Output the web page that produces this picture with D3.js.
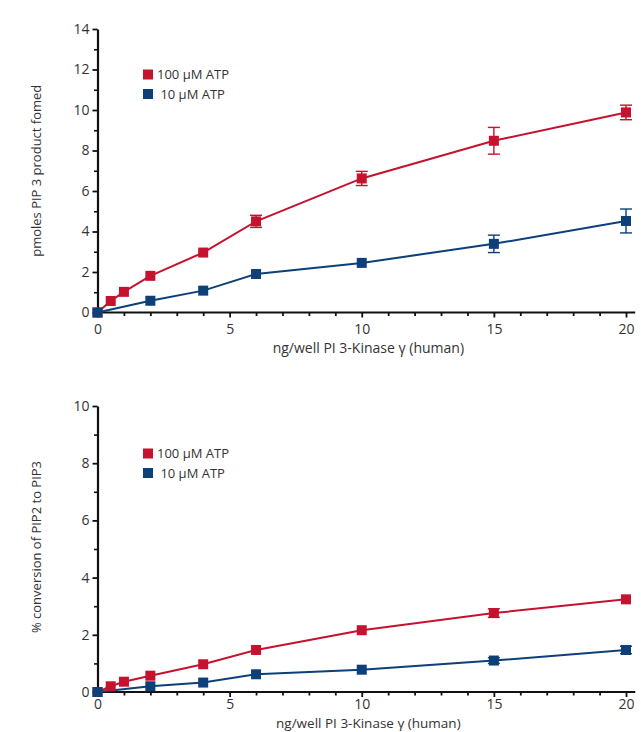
<!DOCTYPE html>
<html><head><meta charset="utf-8">
<script src="https://cdn.jsdelivr.net/npm/d3@7"></script>
<style>
body{margin:0;background:#fff;}
svg text{font-family:"Open Sans","Noto Sans",sans-serif;fill:#333;}
</style></head>
<body><svg id="c" width="641" height="732"></svg>
<script>
// ---- data ----
const xTicks = [0, 5, 10, 15, 20];
const seriesNames = ["100 \u00B5M ATP", " 10 \u00B5M ATP"];
const seriesColors = ["#c4122f", "#0d3f78"];

// top panel: pmoles PIP3 formed
const topRedX = [0, 0.5, 1, 2, 4, 6, 10, 15, 20];
const topRedY = [0, 0.57, 1.02, 1.81, 2.96, 4.5, 6.62, 8.48, 9.88];
const topRedErr = [0, 0, 0, 0, 0, 0.3, 0.35, 0.66, 0.36];
const topBlueX = [0, 2, 4, 6, 10, 15, 20];
const topBlueY = [0, 0.58, 1.08, 1.9, 2.45, 3.39, 4.52];
const topBlueErr = [0, 0, 0, 0, 0, 0.43, 0.59];
const topYTicks = [0, 2, 4, 6, 8, 10, 12, 14];

// bottom panel: % conversion
const botRedX = [0, 0.5, 1, 2, 4, 6, 10, 15, 20];
const botRedY = [0, 0.2, 0.36, 0.57, 0.97, 1.47, 2.16, 2.76, 3.24];
const botRedErr = [0, 0, 0, 0, 0, 0, 0, 0.15, 0];
const botBlueX = [0, 2, 4, 6, 10, 15, 20];
const botBlueY = [0, 0.2, 0.33, 0.62, 0.78, 1.1, 1.47];
const botBlueErr = [0, 0, 0, 0, 0, 0.1, 0.13];
const botYTicks = [0, 2, 4, 6, 8, 10];

const svg = d3.select("#c");
const x = d3.scaleLinear().domain([0, 20]).range([97.5, 626]);

function panel(cfg) {
  const y = d3.scaleLinear().domain([0, cfg.ymax]).range([cfg.y0, cfg.y1]);
  const g = svg.append("g");
  // minor y ticks
  g.append("g").attr("transform", `translate(${x(0)},0)`)
    .call(d3.axisLeft(y).tickValues(d3.range(1, cfg.ymax, 2)).tickSize(3.5).tickFormat("").tickSizeOuter(0))
    .call(a => a.select(".domain").remove())
    .call(a => a.selectAll("line").attr("stroke", "#111").attr("stroke-width", 1.6));
  // major y ticks
  g.append("g").attr("transform", `translate(${x(0)},0)`)
    .call(d3.axisLeft(y).tickValues(cfg.yTicks).tickSize(5).tickPadding(3).tickSizeOuter(0))
    .call(a => a.select(".domain").attr("stroke", "#111").attr("stroke-width", 2.2))
    .call(a => a.selectAll("line").attr("stroke", "#111").attr("stroke-width", 1.8))
    .call(a => a.selectAll("text").attr("font-size", 14).style("fill", "#333"));
  // minor x ticks
  g.append("g").attr("transform", `translate(0,${cfg.y0})`)
    .call(d3.axisBottom(x).tickValues(d3.range(1, 20).filter(v => v % 5)).tickSize(3.5).tickFormat("").tickSizeOuter(0))
    .call(a => a.select(".domain").remove())
    .call(a => a.selectAll("line").attr("stroke", "#111").attr("stroke-width", 1.8));
  // major x ticks
  g.append("g").attr("transform", `translate(0,${cfg.y0})`)
    .call(d3.axisBottom(x).tickValues(xTicks).tickSize(5).tickPadding(cfg.xPad).tickSizeOuter(0))
    .call(a => a.select(".domain").remove())
    .call(a => a.selectAll("line").attr("stroke", "#111").attr("stroke-width", 1.8))
    .call(a => a.selectAll("text").attr("font-size", 14).style("fill", "#333"));
  g.append("line").attr("x1", x(0)).attr("x2", x(20.35)).attr("y1", y(0)).attr("y2", y(0))
    .attr("stroke", "#111").attr("stroke-width", 2.2);

  // axis labels
  g.append("text").attr("x", x(10.25)).attr("y", cfg.y0 + cfg.xLabOff).attr("text-anchor", "middle")
    .attr("font-size", cfg.xLabSize).text("ng/well PI 3-Kinase \u03B3 (human)");
  g.append("text").attr("transform", `translate(41,${(cfg.y0 + cfg.y1) / 2 + cfg.yLabOff}) rotate(-90)`)
    .attr("text-anchor", "middle").attr("font-size", 13).text(cfg.yLabel);

  const line = d3.line().x(d => x(d.x)).y(d => y(d.y));
  cfg.series.forEach((s, i) => {
    const pts = s.xs.map((v, j) => ({ x: v, y: s.ys[j], e: s.es[j] }));
    g.append("path").datum(pts).attr("d", line).attr("fill", "none")
      .attr("stroke", seriesColors[i]).attr("stroke-width", 2);
    const eb = pts.filter(d => d.e > 0);
    const eg = g.append("g").attr("stroke", seriesColors[i]).attr("stroke-width", 1.4);
    eg.selectAll(".v").data(eb).join("line").attr("x1", d => x(d.x)).attr("x2", d => x(d.x))
      .attr("y1", d => y(d.y - d.e)).attr("y2", d => y(d.y + d.e));
    [1, -1].forEach(sg => {
      eg.selectAll(".c" + (sg > 0 ? "a" : "b")).data(eb).join("line")
        .attr("x1", d => x(d.x) - 6).attr("x2", d => x(d.x) + 6)
        .attr("y1", d => y(d.y + sg * d.e)).attr("y2", d => y(d.y + sg * d.e));
    });
  });
  cfg.series.forEach((s, i) => {
    const pts = s.xs.map((v, j) => ({ x: v, y: s.ys[j] }));
    g.append("g").selectAll("rect").data(pts).join("rect")
      .attr("x", d => x(d.x) - 5).attr("y", d => y(d.y) - 5).attr("width", 10).attr("height", 10)
      .attr("fill", seriesColors[i]);
  });

  // legend
  seriesNames.forEach((n, i) => {
    const ly = cfg.legY + i * 19.5;
    g.append("rect").attr("x", 143).attr("y", ly - 5).attr("width", 10).attr("height", 10).attr("fill", seriesColors[i]);
    g.append("text").attr("x", 157).attr("y", ly + 4.5).attr("font-size", 13).style("white-space", "pre")
      .attr("xml:space", "preserve").text(n);
  });
}

panel({ ymax: 14, y0: 312.5, y1: 29, yTicks: topYTicks, yLabel: "pmoles PIP 3 product fomed", yLabOff: 0,
  legY: 74.5, xLabOff: 40.5, xPad: 7, xLabSize: 14,
  series: [{ xs: topRedX, ys: topRedY, es: topRedErr }, { xs: topBlueX, ys: topBlueY, es: topBlueErr }] });
panel({ ymax: 10, y0: 692, y1: 406, yTicks: botYTicks, yLabel: "% conversion of PIP2 to PIP3", yLabOff: -2,
  legY: 453.5, xLabOff: 35.5, xPad: 2, xLabSize: 13.5,
  series: [{ xs: botRedX, ys: botRedY, es: botRedErr }, { xs: botBlueX, ys: botBlueY, es: botBlueErr }] });
</script></body></html>
